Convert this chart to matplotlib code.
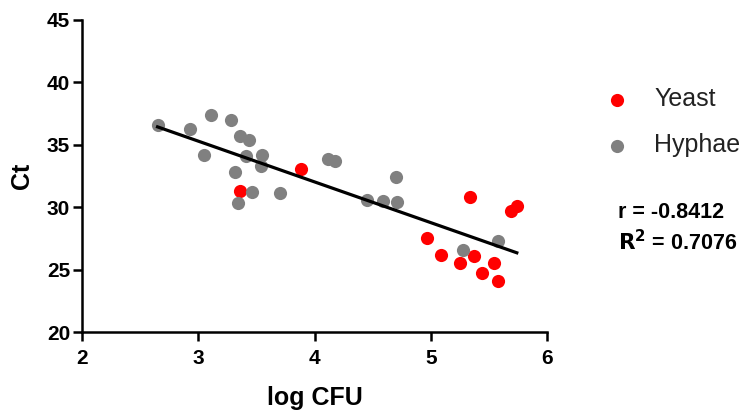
import numpy as np
import matplotlib
matplotlib.use("Agg")
import matplotlib.pyplot as plt

# log CFU vs Ct for the two morphologies
yeast_x = [3.36, 3.88, 4.97, 5.09, 5.25, 5.34, 5.37, 5.44, 5.54, 5.58, 5.69, 5.74]
yeast_y = [31.3, 33.1, 27.5, 26.2, 25.5, 30.8, 26.1, 24.7, 25.5, 24.1, 29.7, 30.1]

hyphae_x = [2.65, 2.93, 3.05, 3.11, 3.28, 3.32, 3.34, 3.36, 3.41, 3.44, 3.46, 3.54,
            3.55, 3.70, 4.12, 4.18, 4.45, 4.59, 4.70, 4.71, 5.28, 5.58]
hyphae_y = [36.6, 36.3, 34.2, 37.4, 37.0, 32.8, 30.3, 35.7, 34.1, 35.4, 31.2, 33.3,
            34.2, 31.1, 33.9, 33.7, 30.6, 30.5, 32.4, 30.4, 26.6, 27.3]

x_ticks = [2, 3, 4, 5, 6]
y_ticks = [20, 25, 30, 35, 40, 45]

stats_text = "r = -0.8412\n$\\mathbf{R^2}$ = 0.7076"

plt.rcParams['font.family'] = ['Liberation Sans', 'DejaVu Sans']

fig = plt.figure(figsize=(7.46, 4.13), dpi=100)
ax = fig.add_axes([0.1099, 0.1961, 0.6234, 0.7555])

ax.scatter(yeast_x, yeast_y, s=90, color="#ff0000", label="Yeast", zorder=3, linewidths=0)
ax.scatter(hyphae_x, hyphae_y, s=90, color="#808080", label="Hyphae", zorder=3, linewidths=0)

# linear regression over all points
all_x = np.array(yeast_x + hyphae_x)
all_y = np.array(yeast_y + hyphae_y)
slope, intercept = np.polyfit(all_x, all_y, 1)
xl = np.array([all_x.min(), all_x.max()])
ax.plot(xl, slope * xl + intercept, color="black", lw=2.3, zorder=4)

ax.set_xlim(2, 6)
ax.set_ylim(20, 45)
ax.set_xticks(x_ticks)
ax.set_yticks(y_ticks)
for lbl in ax.get_xticklabels() + ax.get_yticklabels():
    lbl.set_fontweight("bold")
ax.tick_params(axis="both", labelsize=15, width=1.8, length=6.5, direction="out")
ax.tick_params(axis="x", pad=6)
ax.tick_params(axis="y", pad=2)

for side in ("top", "right"):
    ax.spines[side].set_visible(False)
for side in ("left", "bottom"):
    ax.spines[side].set_linewidth(1.8)
ax.spines["left"].set_bounds(20, 45)

ax.set_xlabel("log CFU", fontsize=18, fontweight="bold", labelpad=13)
ax.set_ylabel("Ct", fontsize=18, fontweight="bold", labelpad=9)

fig.legend(loc="upper left", bbox_to_anchor=(0.793, 0.789), frameon=False,
           fontsize=18, handletextpad=0.5, labelspacing=0.88, markerscale=1.0,
           labelcolor="#222222", borderaxespad=0, borderpad=0)

fig.text(0.828, 0.447, stats_text, fontsize=15.5, fontweight="bold",
         ha="left", va="center", linespacing=1.35)

fig.savefig("out.png", dpi=100)
